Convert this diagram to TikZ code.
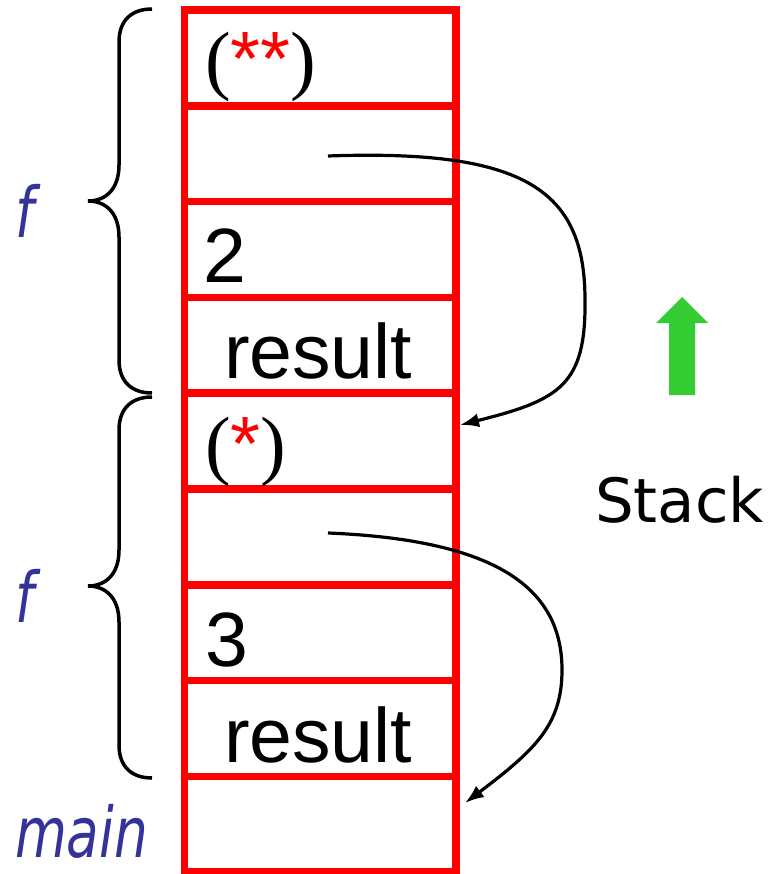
\documentclass[tikz,border=0pt]{standalone}
\usepackage{fontspec}
\setmainfont{Liberation Sans}
\newfontfamily\parenfont{Liberation Serif}
\newfontfamily\dvfont{DejaVu Sans}
\newfontfamily\lblfont[FakeStretch=0.76]{DejaVu Sans}
\usetikzlibrary{arrows.meta}
\definecolor{stackred}{RGB}{255,0,0}
\definecolor{labelblue}{RGB}{51,51,153}
\definecolor{upgreen}{RGB}{51,204,51}
\begin{document}
\begin{tikzpicture}[x=1pt,y=-1pt,
  cell/.style={draw=stackred,line width=7.5pt,minimum width=271.5pt,minimum height=95.8pt,inner sep=0pt,outer sep=0pt},
  txt/.style={anchor=base west,inner sep=0pt,outer sep=0pt,font=\fontsize{77}{80}\selectfont},
  lbl/.style={anchor=base west,inner sep=0pt,outer sep=0pt,text=labelblue,font=\lblfont\itshape\fontsize{70}{74}\selectfont},
  bracestyle/.style={draw=black,line width=3.5pt},
  link/.style={draw=black,line width=3.2pt,-{Latex[length=19pt,width=14pt]}}
]
\useasboundingbox (0,0) rectangle (782,874);
% stack cells
\foreach \k in {1,...,9}{
  \node[cell] (c\k) at (320.25,{10+95.8*(\k-0.5)}) {};
}
% cell texts
\node[txt] (t1) at (205,86) {{\parenfont(}\textcolor{stackred}{**}{\parenfont)}};
\node[txt] (t3) at (203,282) {2};
\node[txt] (t4) at (224,378) {result};
\node[txt] (t5) at (205,470) {{\parenfont(}\textcolor{stackred}{*}{\parenfont)}};
\node[txt] (t7) at (205,666) {3};
\node[txt] (t8) at (224,762) {result};
% braces
\draw[bracestyle] (152,9) .. controls (132,9) and (119,20) .. (119,42) -- (119,165)
  .. controls (119,190) and (105,201) .. (88,201)
  .. controls (105,201) and (119,212) .. (119,237) -- (119,360)
  .. controls (119,382) and (132,393) .. (152,393);
\draw[bracestyle] (152,397) .. controls (132,397) and (119,408) .. (119,430) -- (119,550)
  .. controls (119,575) and (105,586) .. (88,586)
  .. controls (105,586) and (119,597) .. (119,622) -- (119,745)
  .. controls (119,767) and (132,778) .. (152,778);
% labels
\node[lbl] (f1) at (16,238) {f};
\node[lbl] (f2) at (16,622) {f};
\node[lbl] (mainlbl) at (15,857) {main};
% links
\coordinate (s1) at (328,156);
\coordinate (e1) at (460,425);
\coordinate (s2) at (328,533);
\coordinate (e2) at (465,803);
\draw[link] (s1) .. controls (525,149) and (585,190) .. (585,300)
  .. controls (586,385) and (560,400) .. (e1);
\draw[link] (s2) .. controls (500,540) and (562,590) .. (562,670)
  .. controls (562,725) and (535,750) .. (e2);
% growth arrow
\fill[upgreen] (682,297) -- (708,323) -- (695,323) -- (695,395) -- (669,395) -- (669,323) -- (656,323) -- cycle;
\node[anchor=base west,inner sep=0pt,outer sep=0pt,font=\dvfont\fontsize{61}{64}\selectfont] (stacklbl) at (595,522) {Stack};
\end{tikzpicture}
\end{document}
